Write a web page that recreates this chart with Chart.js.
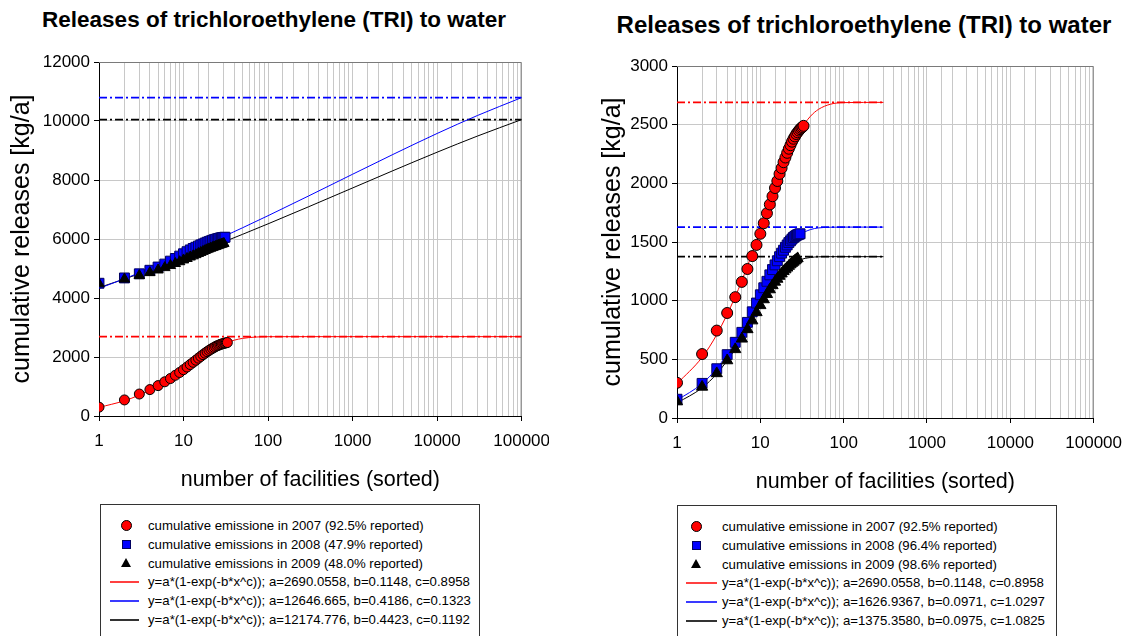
<!DOCTYPE html>
<html>
<head>
<meta charset="utf-8">
<script src="https://cdn.jsdelivr.net/npm/chart.js@4/dist/chart.umd.min.js"></script>
<style>
  body { margin: 0; background: #fff; width: 1132px; height: 636px; overflow: hidden; position: relative; font-family: Arial, "Liberation Sans", sans-serif; }
  .ttl { position: absolute; font-weight: bold; white-space: nowrap; transform: translateX(-50%); color: #000; line-height: 26px; }
  .wrap { position: absolute; top: 0; height: 500px; overflow: hidden; }
  .wrap canvas { position: absolute; left: 0; top: 0; }
  .box { position: absolute; width: 378px; height: 150px; border: 1px solid #333; background: #fff; }
  .row { position: absolute; left: 0; height: 19px; line-height: 19px; font-size: 13.2px; white-space: nowrap; color: #000; }
  .sym { position: absolute; }
</style>
</head>
<body>
<div class="ttl" style="left:274px;top:7px;font-size:22.5px">Releases of trichloroethylene (TRI) to water</div>
<div class="ttl" style="left:864px;top:12px;font-size:24px">Releases of trichloroethylene (TRI) to water</div>
<div class="wrap" style="left:0;width:549px"><canvas id="left" width="560" height="500"></canvas></div>
<div class="wrap" style="left:560px;width:563px"><canvas id="right" width="572" height="500"></canvas></div>
<div class="box" id="legL" style="left:100px;top:504px"></div>
<div class="box" id="legR" style="left:677px;top:505px"></div>
<script>
// x axis labels (log scale)
const facilityTicks = [1, 10, 100, 1000, 10000, 100000];

// cumulative emissions, facilities sorted (x = rank 1..n)
const em2007 = [300, 545, 745, 895, 1030, 1160, 1270, 1380, 1475, 1570, 1660, 1745, 1820, 1890, 1960, 2020, 2080,
  2130, 2180, 2220, 2260, 2295, 2325, 2355, 2380, 2400, 2420, 2435, 2450, 2462, 2472, 2480, 2490];
// left chart (partly reported)
const em2008L = [4500, 4680, 4820, 4940, 5050, 5150, 5250, 5340, 5420, 5500, 5570, 5630, 5680, 5720, 5760, 5800,
  5830, 5860, 5890, 5910, 5935, 5955, 5975, 5990, 6005, 6020, 6030, 6040, 6050, 6055, 6060];
const em2009L = [4480, 4640, 4760, 4860, 4950, 5030, 5100, 5170, 5230, 5290, 5340, 5390, 5430, 5470, 5510, 5545,
  5580, 5610, 5640, 5665, 5690, 5710, 5730, 5750, 5770, 5790, 5805, 5820, 5835, 5850];
// right chart
const em2008R = [160, 295, 420, 540, 645, 730, 815, 905, 980, 1050, 1110, 1165, 1220, 1265, 1305, 1340, 1375,
  1405, 1430, 1455, 1475, 1495, 1510, 1525, 1538, 1548, 1556, 1562, 1566, 1570];
const em2009R = [140, 265, 380, 490, 585, 675, 755, 830, 900, 960, 1010, 1055, 1095, 1130, 1160, 1185, 1210,
  1230, 1250, 1265, 1280, 1295, 1308, 1320, 1330, 1340, 1350, 1360];

// fitted curves y=a*(1-exp(-b*x^c)), values read at these x
const fitX = [1, 2, 3, 5, 7, 10, 15, 20, 30, 40, 50, 70, 100, 300];
const fitRed = [292, 517, 711, 1034, 1294, 1600, 1956, 2189, 2450, 2572, 2631, 2675, 2688, 2690];
const fitBlueR = [151, 293, 423, 649, 835, 1052, 1291, 1432, 1562, 1606, 1620, 1626, 1627, 1627];
const fitBlackR = [128, 257, 377, 587, 758, 952, 1155, 1262, 1347, 1368, 1374, 1375, 1375, 1375];
const fitXL = [1, 2, 3, 5, 10, 20, 30, 50, 100, 300, 1000, 3000, 10000, 30000, 100000];
const fitBlueL = [4325, 4653, 4853, 5112, 5478, 5858, 6087, 6381, 6790, 7455, 8195, 8865, 9577, 10186, 10793];
const fitBlackL = [4352, 4644, 4821, 5050, 5372, 5704, 5904, 6159, 6514, 7089, 7730, 8315, 8942, 9489, 10048];

// dash-dot levels [red, blue, black]
const levelsL = [2690, 10793, 10048];
const levelsR = [2690, 1627, 1375];

const legendL = [
  "cumulative emissione in 2007 (92.5% reported)",
  "cumulative emissions in 2008 (47.9% reported)",
  "cumulative emissions in 2009 (48.0% reported)",
  "y=a*(1-exp(-b*x^c)); a=2690.0558, b=0.1148, c=0.8958",
  "y=a*(1-exp(-b*x^c)); a=12646.665, b=0.4186, c=0.1323",
  "y=a*(1-exp(-b*x^c)); a=12174.776, b=0.4423, c=0.1192"
];
const legendR = [
  "cumulative emissione in 2007 (92.5% reported)",
  "cumulative emissions in 2008 (96.4% reported)",
  "cumulative emissions in 2009 (98.6% reported)",
  "y=a*(1-exp(-b*x^c)); a=2690.0558, b=0.1148, c=0.8958",
  "y=a*(1-exp(-b*x^c)); a=1626.9367, b=0.0971, c=1.0297",
  "y=a*(1-exp(-b*x^c)); a=1375.3580, b=0.0975, c=1.0825"
];

const RED = '#ff0000', BLUE = '#0000ff', BLACK = '#000000';

function ranked(ys) { return ys.map((y, i) => ({ x: i + 1, y: y })); }
function pts(xs, ys) { return xs.map((x, i) => ({ x: x, y: ys[i] })); }
function isDecade(v) { const l = Math.log10(v); return Math.abs(l - Math.round(l)) < 1e-9; }

function markerSet(data, style, fill, border, r) {
  return { data: data, pointStyle: style, pointRadius: r, pointBackgroundColor: fill,
    pointBorderColor: border, pointBorderWidth: 1, showLine: false };
}
function fitLine(data, color) {
  return { data: data, borderColor: color, borderWidth: 1, pointRadius: 0, showLine: true,
    cubicInterpolationMode: 'monotone' };
}
function levelLine(y, xEnd, color) {
  return { data: [{ x: 1, y: y }, { x: xEnd, y: y }], borderColor: color, borderWidth: 1.6,
    borderDash: [8, 3, 2, 3], pointRadius: 0, showLine: true };
}

// gray top/right frame of the plot area
const frame = {
  id: 'frame',
  beforeDatasetsDraw(chart) {
    const a = chart.chartArea, c = chart.ctx;
    c.save();
    c.strokeStyle = '#7a7a7a';
    c.lineWidth = 1;
    c.beginPath();
    c.moveTo(a.left, a.top + 0.5); c.lineTo(a.right - 0.5, a.top + 0.5); c.lineTo(a.right - 0.5, a.bottom);
    c.stroke();
    c.restore();
  }
};

function makeChart(id, o) {
  return new Chart(document.getElementById(id), {
    type: 'scatter',
    data: { datasets: o.datasets },
    options: {
      responsive: false,
      animation: false,
      devicePixelRatio: 1,
      layout: { padding: { top: o.top, right: o.right, left: 0, bottom: 0 } },
      plugins: { legend: { display: false }, tooltip: { enabled: false } },
      scales: {
        x: {
          type: 'logarithmic', min: 1, max: 100000,
          afterFit: s => { s.height = o.xh; },
          ticks: { autoSkip: false, maxRotation: 0, padding: 10, color: '#000',
            font: { family: 'Arial', size: 17 },
            callback: v => facilityTicks.includes(v) ? String(v) : '' },
          grid: { color: '#c8c8c8', tickLength: 5,
            tickColor: c => (c.tick && isDecade(c.tick.value)) ? '#000' : 'rgba(0,0,0,0)' },
          border: { color: '#000' },
          title: { display: true, text: 'number of facilities (sorted)', color: '#000',
            font: { family: 'Arial', size: 21.5 }, padding: { top: 0, bottom: o.xtp } }
        },
        y: {
          min: 0, max: o.yMax,
          afterFit: s => { s.width = o.yw; },
          ticks: { stepSize: o.yStep, padding: 4, color: '#000', font: { family: 'Arial', size: 17 },
            callback: v => String(v) },
          grid: { color: '#c8c8c8', tickLength: 5, tickColor: '#000' },
          border: { color: '#000' },
          title: { display: true, text: 'cumulative releases [kg/a]', color: '#000',
            font: { family: 'Arial', size: 25 }, padding: { top: o.ytp, bottom: 0 } }
        }
      }
    },
    plugins: [frame]
  });
}

makeChart('left', {
  top: 62, right: 36, xh: 84, yw: 99, xtp: 7, ytp: 7, yMax: 12000, yStep: 2000,
  datasets: [
    markerSet(ranked(em2007), 'circle', RED, '#000', 5),
    markerSet(ranked(em2009L), 'triangle', BLACK, '#000', 6),
    markerSet(ranked(em2008L), 'rect', BLUE, '#000060', 7),
    fitLine(pts(fitX.concat([100000]), fitRed.concat([2690])), RED),
    fitLine(pts(fitXL, fitBlueL), BLUE),
    fitLine(pts(fitXL, fitBlackL), BLACK),
    levelLine(levelsL[0], 100000, RED),
    levelLine(levelsL[1], 100000, BLUE),
    levelLine(levelsL[2], 100000, BLACK)
  ]
});

makeChart('right', {
  top: 66, right: 32, xh: 82, yw: 117, xtp: 5, ytp: 38, yMax: 3000, yStep: 500,
  datasets: [
    markerSet(ranked(em2007), 'circle', RED, '#000', 5.5),
    markerSet(ranked(em2009R), 'triangle', BLACK, '#000', 6.5),
    markerSet(ranked(em2008R), 'rect', BLUE, '#000060', 7),
    fitLine(pts(fitX, fitRed), RED),
    fitLine(pts(fitX, fitBlueR), BLUE),
    fitLine(pts(fitX, fitBlackR), BLACK),
    levelLine(levelsR[0], 300, RED),
    levelLine(levelsR[1], 300, BLUE),
    levelLine(levelsR[2], 300, BLACK)
  ]
});

// HTML legend boxes
const legKinds = [
  { m: 'circle', c: RED }, { m: 'square', c: BLUE }, { m: 'triangle', c: BLACK },
  { m: 'line', c: '#ff4040' }, { m: 'line', c: '#3a3aff' }, { m: 'line', c: '#333333' }
];
function buildLegend(id, labels, textX, symX, lineX0, lineX1) {
  const box = document.getElementById(id);
  labels.forEach((txt, i) => {
    const cy = Math.round(20 + i * 18.8);
    const k = legKinds[i];
    const s = document.createElement('div');
    s.className = 'sym';
    if (k.m === 'circle') {
      Object.assign(s.style, { left: (symX - 5) + 'px', top: (cy - 5) + 'px', width: '9px', height: '9px',
        borderRadius: '50%', background: k.c, border: '1px solid #000' });
    } else if (k.m === 'square') {
      Object.assign(s.style, { left: (symX - 4) + 'px', top: (cy - 4) + 'px', width: '7px', height: '7px',
        background: k.c, border: '1px solid #000060' });
    } else if (k.m === 'triangle') {
      Object.assign(s.style, { left: (symX - 5) + 'px', top: (cy - 5) + 'px', width: 0, height: 0,
        borderLeft: '5px solid transparent', borderRight: '5px solid transparent', borderBottom: '9px solid ' + k.c });
    } else {
      Object.assign(s.style, { left: lineX0 + 'px', top: cy + 'px', width: (lineX1 - lineX0) + 'px',
        height: '2px', background: k.c });
    }
    box.appendChild(s);
    const r = document.createElement('div');
    r.className = 'row';
    r.style.left = textX + 'px';
    r.style.top = (cy - 9.5) + 'px';
    r.textContent = txt;
    box.appendChild(r);
  });
}
buildLegend('legL', legendL, 47, 25, 9, 38);
buildLegend('legR', legendR, 44, 18, 8, 39);
</script>
</body>
</html>
